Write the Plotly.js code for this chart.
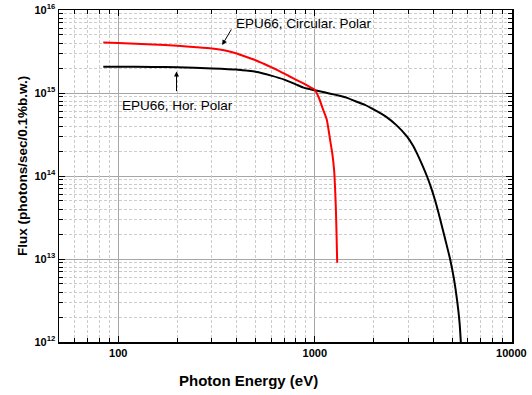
<!DOCTYPE html>
<html>
<head>
<meta charset="utf-8">
<script src="https://cdn.plot.ly/plotly-3.0.1.min.js"></script>
<style>html,body{margin:0;padding:0;background:#fff;}#chart{width:532px;height:395px;}</style>
</head>
<body>
<div id="chart"></div>
<script>
// Circular polarization (red)
const circE = [84, 100, 150, 200, 250, 300, 350, 400, 450, 500, 550, 600, 650, 700, 750, 800, 850, 900, 950, 1000, 1050, 1100, 1150, 1200, 1230, 1255, 1270, 1280, 1290, 1300];
const circF = [4.05e15, 4.0e15, 3.85e15, 3.7e15, 3.56e15, 3.43e15, 3.25e15, 2.99e15, 2.71e15, 2.48e15, 2.25e15, 2.05e15, 1.87e15, 1.71e15, 1.57e15, 1.45e15, 1.35e15, 1.26e15, 1.17e15, 1.09e15, 8.7e14, 6.4e14, 4.8e14, 2.6e14, 1.8e14, 1.15e14, 6.5e13, 4e13, 2e13, 9e12];
// Horizontal polarization (black)
const horE = [84, 100, 150, 200, 300, 400, 450, 500, 600, 700, 800, 870, 910, 960, 1000, 1100, 1200, 1300, 1450, 1600, 1800, 2000, 2300, 2600, 2940, 3150, 3300, 3500, 3715, 3900, 4100, 4345, 4600, 4886, 5100, 5300, 5450, 5530];
const horF = [2.07e15, 2.07e15, 2.06e15, 2.04e15, 1.98e15, 1.92e15, 1.86e15, 1.8e15, 1.62e15, 1.45e15, 1.27e15, 1.17e15, 1.13e15, 1.1e15, 1.08e15, 1.03e15, 9.8e14, 9.4e14, 8.8e14, 8.0e14, 7.2e14, 6.3e14, 5.2e14, 4.1e14, 3.0e14, 2.35e14, 1.9e14, 1.4e14, 1.0e14, 7.3e13, 5.0e13, 3.0e13, 1.75e13, 9.8e12, 5.8e12, 3.1e12, 1.7e12, 1e12];

const xTickVals = [100, 1000, 10000];
const xTickText = ['<b>100</b>', '<b>1000</b>', '<b>10000</b>'];
const yTickVals = [1e12, 1e13, 1e14, 1e15, 1e16];
const yTickText = ['<b>10<sup>12</sup></b>', '<b>10<sup>13</sup></b>', '<b>10<sup>14</sup></b>', '<b>10<sup>15</sup></b>', '<b>10<sup>16</sup></b>'];
const xDecades = [10, 100, 1000];
const yDecades = [1e12, 1e13, 1e14, 1e15];
const minorMult = [2, 3, 4, 5, 6, 7, 8, 9];

const xMinorVals = [];
xDecades.forEach(d => minorMult.forEach(m => xMinorVals.push(d * m)));
const yMinorVals = [];
yDecades.forEach(d => minorMult.forEach(m => yMinorVals.push(d * m)));

const FONT = 'Liberation Sans, Arial, sans-serif';
const xRange = [Math.log10(50), 4.003];
const yRange = [12, 16];

const traces = [
  {x: horE, y: horF, type: 'scatter', mode: 'lines', line: {color: '#000000', width: 2, shape: 'spline', smoothing: 0.6}, hoverinfo: 'skip', xaxis: 'x', yaxis: 'y'},
  {x: circE, y: circF, type: 'scatter', mode: 'lines', line: {color: '#ff0000', width: 2, shape: 'spline', smoothing: 0.6}, hoverinfo: 'skip', xaxis: 'x2', yaxis: 'y2'}
];

const majorAxis = {
  type: 'log',
  showline: true, linecolor: '#000', linewidth: 1.5, mirror: 'allticks',
  ticks: 'inside', ticklen: 6, tickwidth: 1, tickcolor: '#000',
  showgrid: true, gridcolor: '#a6a6a6', gridwidth: 1,
  zeroline: false, tickmode: 'array',
  tickfont: {family: FONT, size: 11, color: '#000'}
};
const minorAxis = {
  type: 'log',
  showline: false, mirror: 'allticks',
  ticks: 'inside', ticklen: 4, tickwidth: 1, tickcolor: '#000',
  showgrid: true, gridcolor: '#cccccc', gridwidth: 1, griddash: '3px,2px',
  zeroline: false, showticklabels: false, tickmode: 'array'
};

const layout = {
  width: 532, height: 395,
  margin: {l: 59, r: 20, t: 10, b: 53},
  paper_bgcolor: '#fff', plot_bgcolor: '#fff',
  showlegend: false,
  font: {family: FONT, color: '#000'},
  xaxis: Object.assign({}, majorAxis, {range: xRange, tickvals: xTickVals, ticktext: xTickText}),
  yaxis: Object.assign({}, majorAxis, {range: yRange, tickvals: yTickVals, ticktext: yTickText}),
  xaxis2: Object.assign({}, minorAxis, {range: xRange, tickvals: xMinorVals, overlaying: 'x', anchor: 'y2', side: 'bottom'}),
  yaxis2: Object.assign({}, minorAxis, {range: yRange, tickvals: yMinorVals, overlaying: 'y', anchor: 'x2', side: 'left'}),
  annotations: [
    {xref: 'paper', yref: 'paper', x: (248 - 59) / 453, y: (342 - 381) / 332, text: '<b>Photon Energy (eV)</b>', showarrow: false, font: {family: FONT, size: 15}, xanchor: 'center', yanchor: 'middle'},
    {xref: 'paper', yref: 'paper', x: (22 - 59) / 453, y: (342 - 166) / 332, text: '<b>Flux (photons/sec/0.1%b.w.)</b>', textangle: -90, showarrow: false, font: {family: FONT, size: 13.5}, xanchor: 'center', yanchor: 'middle'},
    {xref: 'paper', yref: 'paper', x: (234 - 59) / 453, y: (342 - 23) / 332, text: 'EPU66, Circular. Polar', showarrow: false, font: {family: FONT, size: 13.5}, xanchor: 'left', yanchor: 'middle'},
    {xref: 'paper', yref: 'paper', x: (120 - 59) / 453, y: (342 - 105) / 332, text: 'EPU66, Hor. Polar', showarrow: false, font: {family: FONT, size: 13.5}, xanchor: 'left', yanchor: 'middle'},
    {xref: 'x', yref: 'y', x: Math.log10(338), y: Math.log10(3.79e15), text: '', showarrow: true, arrowhead: 2, arrowsize: 1, arrowwidth: 1, arrowcolor: '#000', ax: 10, ay: -17, standoff: 0},
    {xref: 'x', yref: 'y', x: Math.log10(198), y: Math.log10(1.81e15), text: '', showarrow: true, arrowhead: 2, arrowsize: 1, arrowwidth: 1, arrowcolor: '#000', ax: 0, ay: 21, standoff: 0}
  ]
};

Plotly.newPlot('chart', traces, layout, {staticPlot: true, displayModeBar: false});
</script>
</body>
</html>
